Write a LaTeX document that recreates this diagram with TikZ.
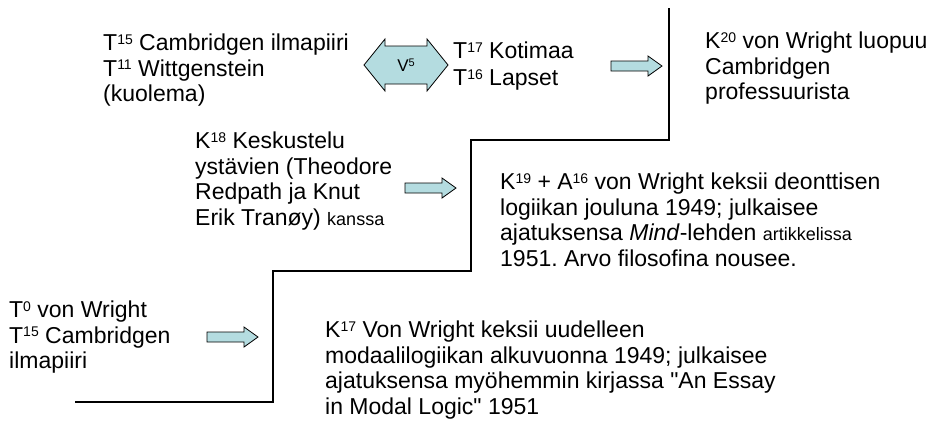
\documentclass[tikz,border=0pt]{standalone}
\usepackage{fontspec}
\setmainfont{Liberation Sans}
\frenchspacing
\newcommand{\sups}[1]{\raisebox{6.5pt}{\fontsize{14}{14}\selectfont #1}}
\newcommand{\supv}[1]{\raisebox{4.8pt}{\fontsize{11}{11}\selectfont #1}}
\definecolor{arrowfill}{HTML}{B4DCE0}
\tikzset{
  txt/.style={anchor=north west, inner sep=0pt, align=left, font=\fontsize{23}{25.5}\selectfont},
  stairline/.style={line width=1.2pt, black},
  blockarrow/.style={draw=black, line width=0.8pt, fill=arrowfill, line join=miter},
}
\begin{document}
\begin{tikzpicture}[x=1pt,y=-1pt]
\useasboundingbox (0,0) rectangle (933,431);
% staircase
\coordinate (s1) at (669,8);
\coordinate (s2) at (669,140);
\coordinate (s3) at (471,140);
\coordinate (s4) at (471,271);
\coordinate (s5) at (273,271);
\coordinate (s6) at (273,402);
\coordinate (s7) at (75,402);
\draw[stairline] (s1) -- (s2) -- (s3) -- (s4) -- (s5) -- (s6) -- (s7);
% texts
\node[txt] (t1) at (103,34) {T\sups{15} Cambridgen ilmapiiri\\T\sups{11} Wittgenstein\\(kuolema)};
\node[txt, font=\fontsize{23}{27}\selectfont] (t2) at (453,42) {T\sups{17} Kotimaa\\T\sups{16} Lapset};
\node[txt] (k20) at (705,32) {K\sups{20} von Wright luopuu\\Cambridgen\\professuurista};
\node[txt] (k18) at (195,132) {K\sups{18} Keskustelu\\ystävien (Theodore\\Redpath ja Knut\\Erik Tranøy) {\fontsize{18}{20}\selectfont kanssa}};
\node[txt] (k19) at (500,173) {K\sups{19} + A\sups{16} von Wright keksii deonttisen\\logiikan jouluna 1949; julkaisee\\ajatuksensa \emph{Mind}-lehden {\fontsize{18}{20}\selectfont artikkelissa}\\1951. Arvo filosofina nousee.};
\node[txt] (t0) at (9,301) {T\sups{0} von Wright\\T\sups{15} Cambridgen\\ilmapiiri};
\node[txt] (k17) at (325,321) {K\sups{17} Von Wright keksii uudelleen\\modaalilogiikan alkuvuonna 1949; julkaisee\\ajatuksensa myöhemmin kirjassa \textquotedbl An Essay\\in Modal Logic\textquotedbl{} 1951};
% double arrow V5
\draw[blockarrow] (364,65) -- (385,39) -- (385,46) -- (427,46) -- (427,39) -- (448,65) -- (427,91) -- (427,84) -- (385,84) -- (385,91) -- cycle;
\node[inner sep=0pt, font=\fontsize{17}{19}\selectfont] (v5) at (406,65) {V\supv{5}};
% single arrows
\draw[blockarrow] (611,61) -- (648,61) -- (648,56) -- (662,66) -- (648,76) -- (648,71) -- (611,71) -- cycle;
\draw[blockarrow] (405,183) -- (442,183) -- (442,178) -- (456,188) -- (442,198) -- (442,193) -- (405,193) -- cycle;
\draw[blockarrow] (207,332) -- (244,332) -- (244,327) -- (258,337) -- (244,347) -- (244,342) -- (207,342) -- cycle;
\end{tikzpicture}
\end{document}
